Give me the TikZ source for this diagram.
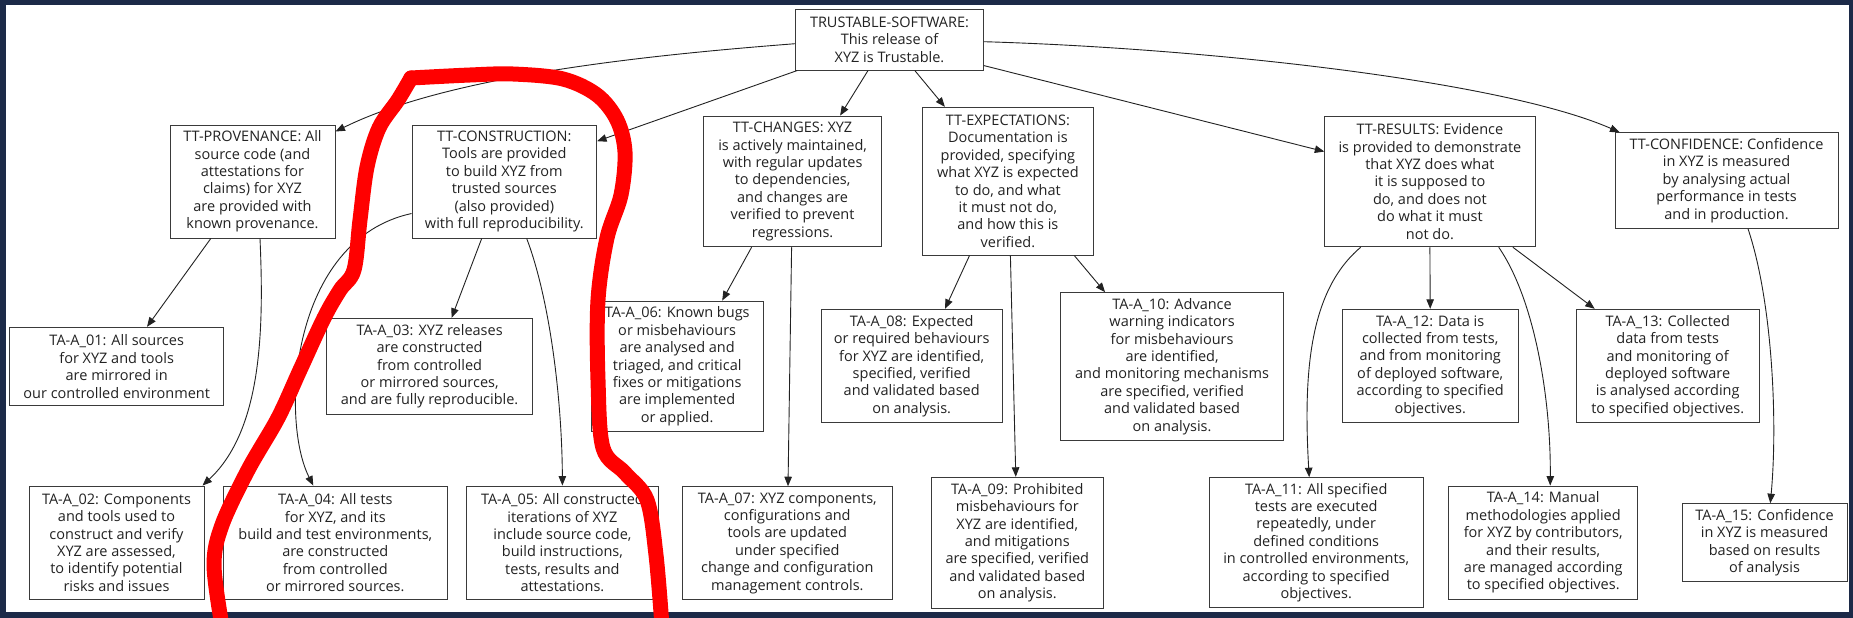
\documentclass[tikz,border=0pt]{standalone}
\usepackage{fontspec}
\setmainfont{Open Sans}
\usetikzlibrary{arrows.meta}
\definecolor{frame}{HTML}{1C2A48}
\definecolor{ink}{HTML}{222222}
\definecolor{boxline}{HTML}{3A3A3A}
\definecolor{redink}{HTML}{FF0000}
\begin{document}
\begin{tikzpicture}[x=1pt,y=-1pt,
  tbox/.style 2 args={draw=boxline, line width=1pt, fill=white, text=ink, align=center,
    inner sep=0pt, minimum width=#1pt, minimum height=#2pt,
    font=\fontsize{14.5}{17.4}\selectfont},
  conn/.style={draw=ink, line width=0.9pt, -{Triangle[length=9.5pt,width=7.5pt]}},
  redpen/.style={draw=redink, line width=15pt, line cap=round, line join=round}
]
\useasboundingbox (0,0) rectangle (1853,618);
\fill[frame] (0,0) rectangle (1853,618);
\fill[white] (6,5) rectangle (1849,612);

% top level
\node[tbox={187.6}{60.7}] (root) at (889.5,39.7) {TRUSTABLE-SOFTWARE:\\This release of\\XYZ is Trustable.};
\node[tbox={165}{113}] (prov) at (252.5,181.5) {TT-PROVENANCE: All\\source code (and\\attestations for\\claims) for XYZ\\are provided with\\known provenance.};
\node[tbox={184.5}{113}] (cons) at (504.3,181.5) {TT-CONSTRUCTION:\\Tools are provided\\to build XYZ from\\trusted sources\\(also provided)\\with full reproducibility.};
\node[tbox={178}{130.7}] (chan) at (792.6,181.4) {TT-CHANGES: XYZ\\is actively maintained,\\with regular updates\\to dependencies,\\and changes are\\verified to prevent\\regressions.};
\node[tbox={171.7}{147.7}] (expe) at (1007.9,181.2) {TT-EXPECTATIONS:\\Documentation is\\provided, specifying\\what XYZ is expected\\to do, and what\\it must not do,\\and how this is\\verified.};
\node[tbox={210.2}{130.7}] (resu) at (1429.9,181.4) {TT-RESULTS: Evidence\\is provided to demonstrate\\that XYZ does what\\it is supposed to\\do, and does not\\do what it must\\not do.};
\node[tbox={223}{95.6}] (conf) at (1726.5,180.5) {TT-CONFIDENCE: Confidence\\in XYZ is measured\\by analysing actual\\performance in tests\\and in production.};

% middle row
\node[tbox={213.5}{78.4}] (a01) at (116.7,366.5) {TA-A\_01: All sources\\for XYZ and tools\\are mirrored in\\our controlled environment};
\node[tbox={206}{96}] (a03) at (429.6,366.3) {TA-A\_03: XYZ releases\\are constructed\\from controlled\\or mirrored sources,\\and are fully reproducible.};
\node[tbox={172.3}{130.7}] (a06) at (677.2,366.4) {TA-A\_06: Known bugs\\or misbehaviours\\are analysed and\\triaged, and critical\\fixes or mitigations\\are implemented\\or applied.};
\node[tbox={180.6}{113.4}] (a08) at (911.7,366) {TA-A\_08: Expected\\or required behaviours\\for XYZ are identified,\\specified, verified\\and validated based\\on analysis.};
\node[tbox={223.4}{147.6}] (a10) at (1172.1,366.5) {TA-A\_10: Advance\\warning indicators\\for misbehaviours\\are identified,\\and monitoring mechanisms\\are specified, verified\\and validated based\\on analysis.};
\node[tbox={175.6}{113.4}] (a12) at (1430.2,366) {TA-A\_12: Data is\\collected from tests,\\and from monitoring\\of deployed software,\\according to specified\\objectives.};
\node[tbox={183}{113.4}] (a13) at (1667.7,366) {TA-A\_13: Collected\\data from tests\\and monitoring of\\deployed software\\is analysed according\\to specified objectives.};

% bottom row
\node[tbox={175}{113.3}] (a02) at (116.5,542.7) {TA-A\_02: Components\\and tools used to\\construct and verify\\XYZ are assessed,\\to identify potential\\risks and issues};
\node[tbox={223.8}{113.3}] (a04) at (335.3,542.7) {TA-A\_04: All tests\\for XYZ, and its\\build and test environments,\\are constructed\\from controlled\\or mirrored sources.};
\node[tbox={191.3}{113.3}] (a05) at (562.4,542.7) {TA-A\_05: All constructed\\iterations of XYZ\\include source code,\\build instructions,\\tests, results and\\attestations.};
\node[tbox={210.5}{112.6}] (a07) at (787.3,543) {TA-A\_07: XYZ components,\\configurations and\\tools are updated\\under specified\\change and configuration\\management controls.};
\node[tbox={172.2}{131}] (a09) at (1017.3,542.8) {TA-A\_09: Prohibited\\misbehaviours for\\XYZ are identified,\\and mitigations\\are specified, verified\\and validated based\\on analysis.};
\node[tbox={213.7}{129.6}] (a11) at (1316.2,542.5) {TA-A\_11: All specified\\tests are executed\\repeatedly, under\\defined conditions\\in controlled environments,\\according to specified\\objectives.};
\node[tbox={188.8}{113.3}] (a14) at (1543.2,542.7) {TA-A\_14: Manual\\methodologies applied\\for XYZ by contributors,\\and their results,\\are managed according\\to specified objectives.};
\node[tbox={165}{78}] (a15) at (1764.5,542.7) {TA-A\_15: Confidence\\in XYZ is measured\\based on results\\of analysis};

% connectors
\draw[conn] ([yshift=-4pt]root.west) .. controls (650,55) and (450,75) .. ([yshift=-7pt]prov.north east);
\draw[conn] ([xshift=2pt]root.south west) -- ([yshift=-16.7pt]cons.north east);
\draw[conn] ([xshift=-21.5pt]root.south) -- ([xshift=47.5pt]chan.north);
\draw[conn] ([xshift=25.3pt]root.south) -- ([xshift=-63pt]expe.north);
\draw[conn] ([yshift=5pt]root.south east) -- ([yshift=-36pt]resu.north west);
\draw[conn] ([yshift=-2pt]root.east) .. controls (1200,48) and (1500,80) .. ([xshift=5pt]conf.north west);
\draw[conn] ([xshift=-41.7pt]prov.south) -- ([xshift=30.3pt]a01.north);
\draw[conn] ([xshift=7.5pt]prov.south) .. controls (264,330) and (262,430) .. ([xshift=-2pt]a02.north east);
\draw[conn] ([xshift=-22.6pt]cons.south) -- ([xshift=22pt]a03.north);
\draw[conn] ([yshift=-32pt]cons.west) .. controls (290,240) and (280,420) .. ([xshift=-22pt]a04.north);
\draw[conn] ([xshift=22.4pt]cons.south) .. controls (550,300) and (562,400) .. (a05.north);
\draw[conn] ([xshift=-41pt]chan.south) -- ([xshift=45pt]a06.north);
\draw[conn] ([xshift=-1pt]chan.south) -- ([xshift=0.7pt]a07.north);
\draw[conn] ([xshift=-38.4pt]expe.south) -- ([xshift=33.3pt]a08.north);
\draw[conn] ([xshift=2.5pt]expe.south) -- ([xshift=-1.5pt]a09.north);
\draw[conn] ([xshift=66.4pt]expe.south) -- ([xshift=-67pt]a10.north);
\draw[conn] ([xshift=-69.2pt]resu.south) .. controls (1310,290) and (1303,370) .. ([xshift=-7pt]a11.north);
\draw[conn] (resu.south) -- (a12.north);
\draw[conn] ([xshift=68.8pt]resu.south) .. controls (1535,300) and (1551,400) .. ([xshift=7pt]a14.north);
\draw[conn] ([xshift=83pt]resu.south) -- ([xshift=-73pt]a13.north);
\draw[conn] ([xshift=21.5pt]conf.south) .. controls (1772,300) and (1778,420) .. ([xshift=5.8pt]a15.north);

% red annotation stroke
\draw[redpen] plot[smooth, tension=0.55] coordinates {(222,626) (214,565) (222,525) (248,470) (278,418) (300,370) (324,318) (340,290) (354,270) (360,220) (367,167) (379,128) (398,100) (411,78)};
\draw[redpen] plot[smooth, tension=0.55] coordinates {(411,78) (470,75) (513,74) (563,79) (597,95) (617,120) (625,152) (621,195) (607,238) (598,300) (598,380) (603,448) (625,473) (647,500) (656,555) (662,626)};
\end{tikzpicture}
\end{document}
